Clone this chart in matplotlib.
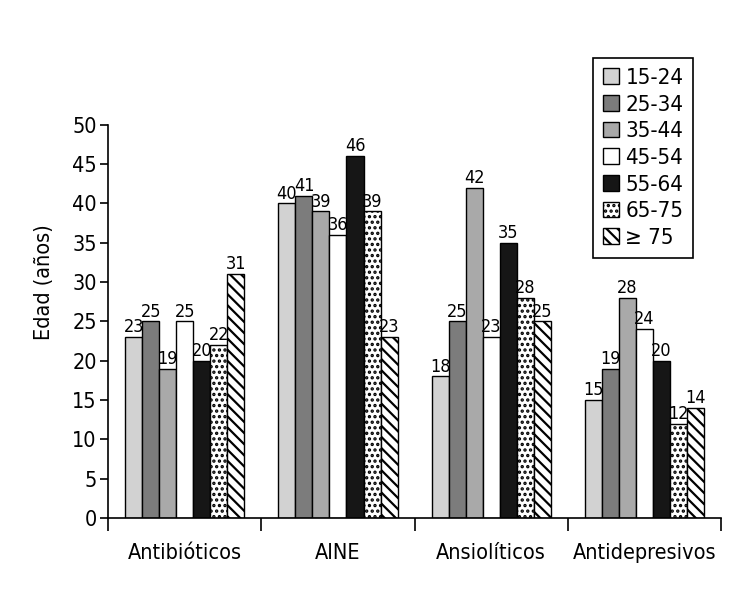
import matplotlib
matplotlib.use('Agg')
import matplotlib.pyplot as plt
import numpy as np

plt.rcParams['font.family'] = ['DejaVu Sans']
plt.rcParams['font.stretch'] = 'condensed'
plt.rcParams['hatch.linewidth'] = 1.6

# Datos
categorias = ['Antibióticos', 'AINE', 'Ansiolíticos', 'Antidepresivos']
grupos = ['15-24', '25-34', '35-44', '45-54', '55-64', '65-75', '≥ 75']
v_15_24 = [23, 40, 18, 15]
v_25_34 = [25, 41, 25, 19]
v_35_44 = [19, 39, 42, 28]
v_45_54 = [25, 36, 23, 24]
v_55_64 = [20, 46, 35, 20]
v_65_75 = [22, 39, 28, 12]
v_75 = [31, 23, 25, 14]
series = [v_15_24, v_25_34, v_35_44, v_45_54, v_55_64, v_65_75, v_75]

colores = ['#d2d2d2', '#7c7c7c', '#a9a9a9', 'white', '#161616', 'white', 'white']
tramas = [None, None, None, None, None, '...', '\\\\\\']

fig = plt.figure(figsize=(7.3, 6.03), dpi=100)
ax = fig.add_axes([0.148, 0.141, 0.840, 0.652])

x = np.arange(len(categorias))
ancho = 0.111
for i, (vals, col, tr, nom) in enumerate(zip(series, colores, tramas, grupos)):
    pos = x + (i - 3) * ancho
    ax.bar(pos, vals, ancho, color=col, edgecolor='black', linewidth=1.0,
           hatch=tr, label=nom)
    for p, v in zip(pos, vals):
        ax.text(p, v + 0.1, str(v), ha='center', va='bottom', fontsize=13, clip_on=False)

ax.set_xlim(-0.5, 3.5)
ax.set_ylim(0, 50)
ax.set_yticks(range(0, 51, 5))
ax.set_xticks([-0.5, 0.5, 1.5, 2.5, 3.5])
ax.set_xticklabels([])
ax.set_xticks(x, minor=True)
ax.set_xticklabels(categorias, minor=True, fontsize=15.5)
ax.tick_params(axis='x', which='major', direction='out', length=9, width=1.2)
ax.tick_params(axis='x', which='minor', length=0, pad=18)
ax.tick_params(axis='y', direction='out', length=6, width=1.2, labelsize=15.5, pad=2)
ax.set_ylabel('Edad (años)', fontsize=15.5)
ax.yaxis.set_label_coords(-0.088, 0.6)

ax.spines['top'].set_visible(False)
ax.spines['right'].set_visible(False)
ax.spines['left'].set_linewidth(1.2)
ax.spines['bottom'].set_linewidth(1.2)

leg = fig.legend(loc='upper left', bbox_to_anchor=(0.812, 0.904), fontsize=16,
                 frameon=True, fancybox=False, edgecolor='black', framealpha=1,
                 handlelength=0.72, handleheight=0.72, handletextpad=0.3,
                 labelspacing=0.3, borderpad=0.45, borderaxespad=0)
leg.get_frame().set_linewidth(1.2)

fig.savefig('out.png', dpi=100)
